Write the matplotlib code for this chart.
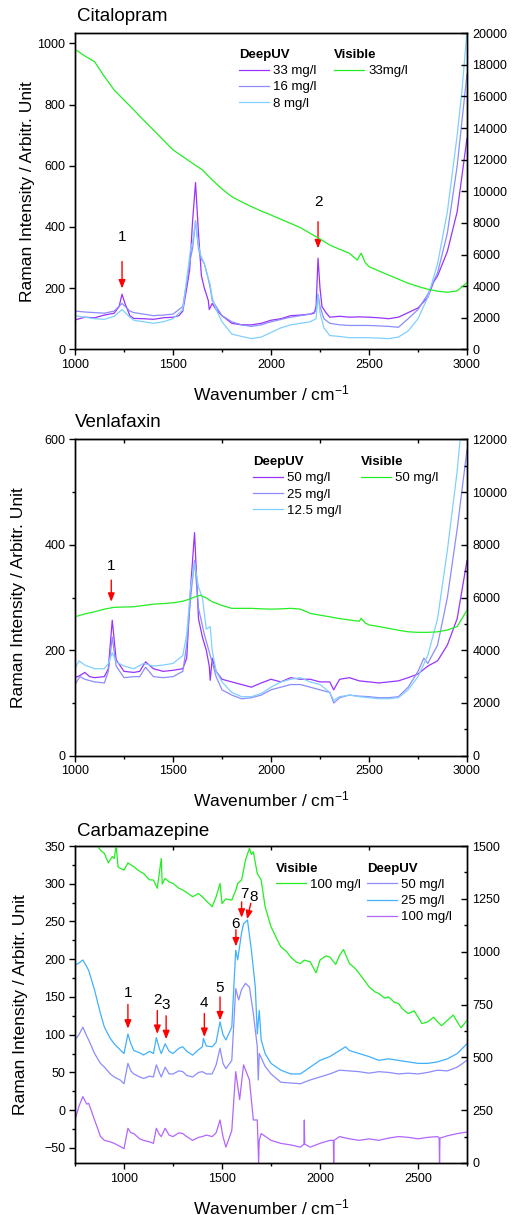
import matplotlib
matplotlib.use("Agg")
import matplotlib.pyplot as plt
from matplotlib.ticker import MultipleLocator, FixedLocator

plt.rcParams['font.family'] = ['Liberation Sans', 'DejaVu Sans']
plt.rcParams['mathtext.fontset'] = 'custom'
plt.rcParams['mathtext.rm'] = 'Liberation Sans'
plt.rcParams['mathtext.it'] = 'Liberation Sans'

# ---------------- Data ----------------
# Citalopram
cit_x_uv33 = [1000,1050,1100,1150,1200,1225,1240,1255,1280,1300,1350,1400,1450,1500,1530,1550,1570,1585,1600,1615,1630,1645,1660,1680,1685,1700,1720,1750,1800,1850,1900,1950,2000,2050,2100,2150,2200,2220,2230,2240,2250,2260,2280,2300,2350,2400,2450,2500,2550,2600,2650,2700,2750,2800,2830,2850,2900,2950,3000]
cit_y_uv33 = [96,105,103,112,118,140,180,150,110,101,100,98,103,105,110,125,200,260,420,545,380,240,200,160,130,150,130,110,85,80,80,85,95,100,110,112,115,118,140,298,200,140,120,105,108,105,106,105,103,100,105,120,135,170,220,240,320,450,690]
cit_x_uv16 = [1000,1050,1100,1150,1200,1240,1280,1300,1350,1400,1450,1500,1550,1570,1590,1600,1615,1630,1640,1660,1680,1690,1700,1750,1800,1850,1900,1950,2000,2100,2200,2230,2240,2250,2270,2300,2350,2400,2500,2600,2650,2700,2750,2800,2850,2900,2950,3000]
cit_y_uv16 = [125,122,120,118,125,150,125,120,115,110,112,115,140,220,300,330,420,330,300,280,230,200,160,110,90,80,75,80,90,105,115,125,180,140,100,85,80,78,78,75,72,100,130,180,250,380,600,900]
cit_x_uv8 = [1000,1050,1100,1150,1200,1240,1280,1300,1350,1400,1450,1500,1550,1570,1590,1600,1615,1630,1640,1660,1690,1700,1720,1750,1800,1850,1900,1950,2000,2050,2100,2200,2230,2240,2250,2270,2300,2350,2400,2500,2600,2650,2700,2750,2800,2850,2900,2950,2975,3000]
cit_y_uv8 = [110,105,100,98,108,130,105,95,90,85,90,100,130,230,330,350,420,340,310,280,210,170,130,90,50,42,35,40,55,70,80,90,100,180,120,70,45,42,38,38,35,40,60,100,170,280,450,700,850,1040]
cit_x_vis = [1000,1050,1100,1150,1200,1250,1300,1350,1400,1450,1500,1550,1600,1650,1700,1750,1800,1850,1900,1950,2000,2050,2100,2150,2200,2250,2300,2350,2400,2440,2460,2480,2500,2550,2600,2650,2700,2750,2800,2850,2900,2950,3000]
cit_y_vis = [18990,18565,18200,17260,16410,15780,15150,14500,13880,13250,12620,12200,11770,11350,10720,10150,9660,9330,9030,8750,8500,8230,7970,7700,7340,6980,6600,6330,6080,5650,6080,5500,5230,4960,4700,4440,4180,3980,3800,3680,3610,3700,4220]

# Venlafaxin
ven_x_uv50 = [1000,1025,1050,1075,1100,1150,1170,1190,1210,1250,1300,1330,1360,1400,1450,1500,1550,1570,1590,1610,1630,1650,1670,1685,1690,1700,1720,1750,1800,1850,1900,1950,2000,2050,2100,2150,2200,2250,2300,2320,2350,2400,2450,2500,2550,2600,2650,2700,2750,2800,2850,2900,2950,3000]
ven_y_uv50 = [148,152,158,150,148,150,165,257,182,160,158,160,178,165,160,162,165,185,320,423,260,225,200,170,143,185,160,145,140,135,130,138,145,140,148,145,145,140,140,125,145,148,142,140,138,140,142,148,155,170,180,210,260,370]
ven_x_uv25 = [1000,1025,1050,1100,1150,1170,1190,1210,1250,1300,1330,1360,1400,1450,1500,1550,1570,1590,1610,1630,1660,1690,1720,1750,1800,1850,1900,1950,2000,2050,2100,2150,2200,2250,2300,2320,2350,2400,2450,2500,2550,2600,2650,2700,2750,2780,2800,2850,2900,2950,3000]
ven_y_uv25 = [135,150,145,140,138,160,225,170,148,150,150,168,150,148,150,160,210,300,370,280,230,190,150,125,115,108,110,115,125,130,135,135,130,125,120,100,110,115,113,112,110,110,112,130,160,185,175,210,300,430,580]
ven_x_uv12 = [1000,1020,1050,1100,1150,1170,1190,1210,1250,1300,1350,1400,1450,1500,1550,1570,1590,1610,1630,1650,1670,1690,1700,1720,1750,1800,1850,1900,1950,2000,2050,2100,2150,2200,2250,2300,2320,2350,2400,2450,2500,2550,2600,2650,2700,2750,2800,2850,2900,2950,2975,3000]
ven_y_uv12 = [165,180,172,165,165,175,195,178,170,165,175,170,172,175,190,230,320,365,320,300,240,245,200,160,140,120,112,112,118,130,140,145,148,140,135,120,105,112,115,112,110,108,108,110,125,150,190,260,390,540,640,760]
ven_x_vis = [1000,1050,1100,1150,1200,1250,1300,1350,1400,1450,1500,1550,1580,1610,1640,1670,1700,1750,1800,1850,1900,1950,2000,2050,2100,2150,2200,2250,2300,2350,2400,2450,2460,2480,2500,2550,2600,2650,2700,2750,2800,2850,2900,2950,3000]
ven_y_vis = [5270,5380,5460,5560,5630,5640,5650,5700,5750,5770,5800,5860,5930,6020,6090,5980,5840,5700,5590,5590,5590,5570,5560,5570,5590,5560,5400,5330,5270,5200,5150,5100,5210,5040,4960,4900,4830,4760,4700,4680,4680,4700,4770,4900,5520]

# Carbamazepine
car_x_vis = [750,850,880,900,920,940,950,960,970,1000,1020,1050,1080,1100,1130,1150,1170,1190,1195,1210,1230,1250,1280,1300,1320,1350,1380,1400,1420,1450,1470,1490,1500,1520,1550,1570,1580,1600,1620,1640,1650,1660,1680,1700,1720,1750,1780,1800,1830,1850,1880,1900,1920,1950,1980,2000,2030,2050,2080,2100,2120,2150,2180,2200,2230,2250,2280,2300,2330,2350,2380,2400,2420,2450,2480,2500,2520,2550,2580,2600,2620,2650,2680,2700,2720,2750]
car_y_vis = [1600,1520,1480,1465,1420,1450,1441,1500,1400,1386,1420,1402,1380,1370,1340,1339,1300,1441,1320,1347,1330,1323,1300,1292,1280,1260,1275,1260,1240,1213,1260,1323,1228,1250,1244,1290,1323,1339,1434,1489,1460,1473,1370,1339,1213,1118,1060,1023,1000,975,950,944,960,952,900,960,980,975,940,983,1010,944,920,897,860,834,810,802,780,786,760,755,730,707,720,691,660,668,690,668,650,675,700,668,640,675]
car_x_uv25 = [750,770,790,810,820,850,880,900,930,950,980,1000,1020,1035,1050,1080,1100,1130,1150,1165,1180,1190,1210,1230,1250,1280,1300,1320,1350,1380,1400,1405,1420,1450,1470,1490,1505,1520,1550,1570,1580,1600,1610,1630,1650,1670,1680,1690,1700,1720,1750,1800,1850,1900,1950,2000,2050,2100,2130,2150,2200,2250,2300,2350,2400,2450,2500,2550,2600,2650,2700,2750]
car_y_uv25 = [192,195,199,190,185,159,128,110,95,88,80,75,101,88,79,76,73,78,75,96,82,75,88,78,75,82,84,78,73,80,84,95,85,84,90,117,100,93,110,212,199,235,247,252,212,163,101,132,93,75,62,53,48,48,57,66,71,79,84,79,75,71,66,68,66,64,62,62,64,68,75,88]
car_x_uv50 = [750,770,790,810,820,850,880,900,930,950,980,1000,1020,1035,1050,1080,1100,1130,1150,1165,1180,1190,1210,1230,1250,1280,1300,1320,1350,1380,1400,1420,1450,1470,1490,1505,1520,1550,1570,1585,1600,1620,1640,1660,1680,1685,1690,1720,1750,1800,1850,1900,1950,2000,2050,2100,2150,2200,2250,2300,2350,2400,2450,2500,2550,2600,2650,2700,2750]
car_y_uv50 = [93,100,110,98,93,75,62,57,48,44,40,35,62,52,48,44,42,45,44,60,50,44,57,48,48,52,51,46,44,50,51,48,48,60,82,62,55,66,161,146,160,168,163,128,84,40,75,58,48,37,36,35,40,44,48,53,52,51,49,51,50,48,49,48,50,53,52,57,66]
car_x_uv100 = [750,770,790,810,820,850,880,900,930,950,980,1000,1020,1035,1050,1080,1100,1130,1150,1165,1180,1190,1210,1230,1250,1280,1300,1320,1350,1380,1400,1420,1450,1470,1490,1505,1520,1550,1570,1590,1610,1640,1660,1680,1687,1690,1700,1750,1800,1850,1900,1918,1920,1922,1950,2000,2050,2068,2070,2072,2100,2150,2200,2250,2300,2350,2400,2450,2500,2550,2600,2608,2610,2612,2650,2700,2750]
car_y_uv100 = [-13,5,18,8,9,-13,-35,-40,-42,-44,-48,-51,-24,-30,-31,-38,-40,-42,-44,-24,-32,-35,-24,-33,-35,-30,-31,-35,-40,-36,-35,-33,-35,-30,-13,-35,-49,-27,51,14,60,40,-13,-13,-70,-40,-31,-40,-44,-46,-49,-45,-13,-45,-49,-44,-40,-40,-70,-40,-35,-38,-40,-38,-40,-37,-35,-36,-38,-36,-35,-37,-70,-37,-34,-31,-29]

# Annotation labels (number, wavenumber, text height, arrow start, arrow end)
cit_ann = [("1", 1240, 366, 287, 199), ("2", 2240, 483, 417, 330)]
ven_ann = [("1", 1185, 360, 333, 292)]
car_ann = [("1", 1020, 155, 140, 108), ("2", 1170, 146, 132, 101), ("3", 1215, 139, 125, 94),
           ("4", 1410, 142, 128, 97), ("5", 1490, 162, 150, 119), ("6", 1571, 247, 239, 217)]

# ---------------- Style ----------------
C_PURPLE = '#9933FF'
C_LAV = '#8C8CFF'
C_SKY = '#80D0FF'
C_GREEN = '#22EE22'
C_BLUE25 = '#40B0FF'
C_VIOLET = '#B266FF'
LW = 0.9
TICK_FS = 9
LAB_FS = 12.5
TITLE_FS = 13.5
LEG_FS = 9.5
ANN_FS = 11
ARROW = dict(arrowstyle='-|>,head_length=0.5,head_width=0.2', color='#FF0000', lw=1.0, shrinkA=0, shrinkB=0)

fig = plt.figure(figsize=(5.13, 12.15), dpi=100)

def make_axes(rect, ylab_x):
    ax = fig.add_axes(rect)
    ax2 = ax.twinx()
    for a in (ax, ax2):
        for s in a.spines.values():
            s.set_linewidth(1.0)
    ax.tick_params(axis='both', which='both', direction='out', labelsize=TICK_FS, width=1.0, pad=3)
    ax.tick_params(which='major', length=4)
    ax.tick_params(which='minor', length=2.5)
    ax2.tick_params(axis='y', which='both', direction='in', labelsize=TICK_FS, width=1.0, pad=4)
    ax2.tick_params(which='major', length=4)
    ax2.tick_params(which='minor', length=2.5)
    ax.set_xlabel('Wavenumber / cm$^{-1}$', fontsize=LAB_FS, labelpad=9)
    ax.set_ylabel('Raman Intensity / Arbitr. Unit', fontsize=LAB_FS)
    ax.yaxis.set_label_coords(ylab_x, 0.5)
    return ax, ax2

def add_legends(ax2, h1, l1, t1, pos1, h2, l2, t2, pos2):
    kw = dict(loc='upper left', frameon=False, alignment='left', fontsize=LEG_FS,
              title_fontproperties={'weight': 'bold', 'size': LEG_FS},
              handlelength=2.25, handletextpad=0.35, labelspacing=0.3,
              borderpad=0, borderaxespad=0)
    lg1 = ax2.legend(h1, l1, title=t1, bbox_to_anchor=pos1, **kw)
    ax2.add_artist(lg1)
    lg2 = ax2.legend(h2, l2, title=t2, bbox_to_anchor=pos2, **kw)
    return lg1, lg2

def add_arrows(ax, anns):
    for lab, x, ty, y0, y1 in anns:
        ax.text(x, ty, lab, fontsize=ANN_FS, ha='center', va='center')
        ax.annotate('', xy=(x, y1), xytext=(x, y0), arrowprops=ARROW)

# ---------- Panel 1: Citalopram ----------
ax, ax2 = make_axes([0.1462, 0.7125, 0.7641, 0.2601], -0.103)
a1, = ax.plot(cit_x_uv33, cit_y_uv33, color=C_PURPLE, lw=LW)
a2, = ax.plot(cit_x_uv16, cit_y_uv16, color=C_LAV, lw=LW)
a3, = ax.plot(cit_x_uv8, cit_y_uv8, color=C_SKY, lw=LW)
g1, = ax2.plot(cit_x_vis, cit_y_vis, color=C_GREEN, lw=LW)
ax.set_xlim(1000, 3000)
ax.set_ylim(0, 1033)
ax2.set_ylim(0, 20000)
ax.xaxis.set_major_locator(MultipleLocator(500))
ax.xaxis.set_minor_locator(MultipleLocator(250))
ax.yaxis.set_major_locator(MultipleLocator(200))
ax2.yaxis.set_major_locator(MultipleLocator(2000))
add_arrows(ax, cit_ann)
add_legends(ax2, [a1, a2, a3], ['33 mg/l', '16 mg/l', '8 mg/l'], 'DeepUV', (0.418, 0.95),
            [g1], ['33mg/l'], 'Visible', (0.661, 0.95))
ax.text(0.005, 1.025, 'Citalopram', transform=ax.transAxes, fontsize=TITLE_FS, ha='left', va='bottom')

# ---------- Panel 2: Venlafaxin ----------
ax, ax2 = make_axes([0.1462, 0.3780, 0.7641, 0.2604], -0.126)
b1, = ax.plot(ven_x_uv50, ven_y_uv50, color=C_PURPLE, lw=LW)
b2, = ax.plot(ven_x_uv25, ven_y_uv25, color=C_LAV, lw=LW)
b3, = ax.plot(ven_x_uv12, ven_y_uv12, color=C_SKY, lw=LW)
g2, = ax2.plot(ven_x_vis, ven_y_vis, color=C_GREEN, lw=LW)
ax.set_xlim(1000, 3000)
ax.set_ylim(0, 600)
ax2.set_ylim(0, 12000)
ax.xaxis.set_major_locator(MultipleLocator(500))
ax.xaxis.set_minor_locator(MultipleLocator(250))
ax.yaxis.set_major_locator(MultipleLocator(200))
ax.yaxis.set_minor_locator(MultipleLocator(100))
ax2.yaxis.set_major_locator(MultipleLocator(2000))
ax2.yaxis.set_minor_locator(MultipleLocator(1000))
sec = ax.secondary_xaxis('top')
sec.xaxis.set_major_locator(FixedLocator([1250, 1750, 2250, 2750]))
sec.tick_params(direction='in', length=3, width=1.0, labeltop=False)
add_arrows(ax, ven_ann)
add_legends(ax2, [b1, b2, b3], ['50 mg/l', '25 mg/l', '12.5 mg/l'], 'DeepUV', (0.454, 0.947),
            [g2], ['50 mg/l'], 'Visible', (0.730, 0.947))
ax.text(0.0, 1.025, 'Venlafaxin', transform=ax.transAxes, fontsize=TITLE_FS, ha='left', va='bottom')

# ---------- Panel 3: Carbamazepine ----------
ax, ax2 = make_axes([0.1462, 0.0428, 0.7641, 0.2609], -0.119)
c1, = ax.plot(car_x_uv50, car_y_uv50, color=C_LAV, lw=LW)
c2, = ax.plot(car_x_uv25, car_y_uv25, color=C_BLUE25, lw=LW)
c3, = ax.plot(car_x_uv100, car_y_uv100, color=C_VIOLET, lw=LW)
g3, = ax2.plot(car_x_vis, car_y_vis, color=C_GREEN, lw=LW)
ax.set_xlim(750, 2750)
ax.set_ylim(-70, 350)
ax2.set_ylim(0, 1500)
ax.xaxis.set_major_locator(FixedLocator([1000, 1500, 2000, 2500]))
ax.xaxis.set_minor_locator(FixedLocator([750, 1250, 1750, 2250, 2750]))
ax.yaxis.set_major_locator(MultipleLocator(50))
ax.yaxis.set_minor_locator(MultipleLocator(25))
ax2.yaxis.set_major_locator(MultipleLocator(250))
ax2.yaxis.set_minor_locator(MultipleLocator(125))
sec = ax.secondary_xaxis('top')
sec.xaxis.set_major_locator(FixedLocator([1250, 1750, 2250]))
sec.tick_params(direction='in', length=3, width=1.0, labeltop=False)
add_arrows(ax, car_ann)
ax.text(1614, 287, '7', fontsize=ANN_FS, ha='center', va='center')
ax.annotate('', xy=(1600, 255), xytext=(1600, 276), arrowprops=ARROW)
ax.text(1662, 283, '8', fontsize=ANN_FS, ha='center', va='center')
ax.annotate('', xy=(1628, 253), xytext=(1647, 274), arrowprops=ARROW)
add_legends(ax2, [g3], ['100 mg/l'], 'Visible', (0.513, 0.947),
            [c1, c2, c3], ['50 mg/l', '25 mg/l', '100 mg/l'], 'DeepUV', (0.745, 0.947))
ax.text(0.005, 1.018, 'Carbamazepine', transform=ax.transAxes, fontsize=TITLE_FS, ha='left', va='bottom')

fig.savefig('out.png', dpi=100)
